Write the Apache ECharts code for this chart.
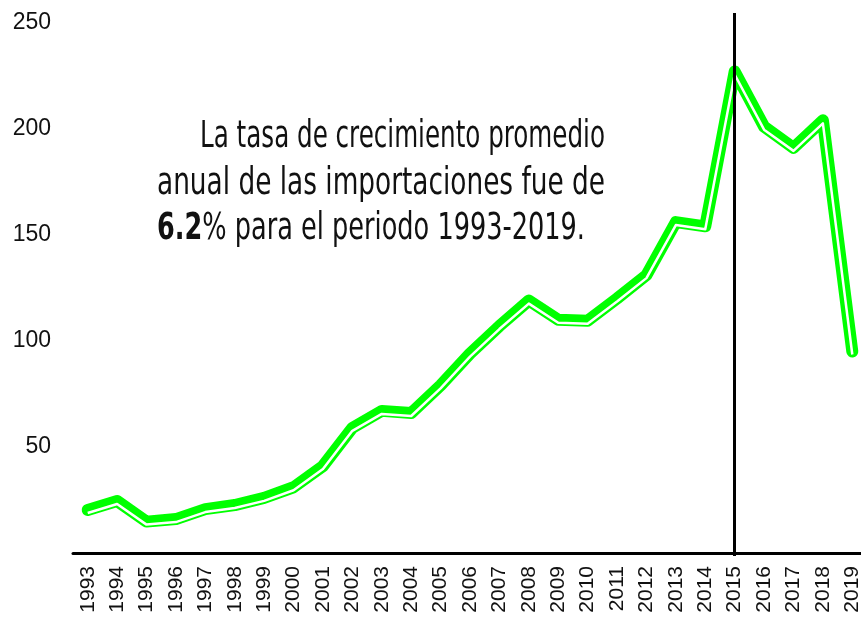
<!DOCTYPE html>
<html>
<head>
<meta charset="utf-8">
<script src="https://cdn.jsdelivr.net/npm/echarts@6/dist/echarts.min.js"></script>
<style>
html, body { margin: 0; padding: 0; background: #fff; }
#chart { width: 861px; height: 623px; }
</style>
</head>
<body>
<div id="chart"></div>
<script>
// data
const years = ['1993','1994','1995','1996','1997','1998','1999','2000','2001','2002',
    '2003','2004','2005','2006','2007','2008','2009','2010','2011','2012',
    '2013','2014','2015','2016','2017','2018','2019'];
const imports = [20.3, 24.5, 14.8, 16, 20.7, 22.6, 26, 31, 41, 59,
    67, 66, 79, 94, 107, 119, 110, 109.5, 120, 131,
    156, 154, 227, 201, 191, 204, 95];
const markYear = '2015';
const noteLines = [
    'La tasa de crecimiento promedio',
    'anual de las importaciones fue de',
    '% para el periodo 1993-2019.'
];
const noteBold = '6.2';

// text fitting helpers
const NOTE_FONT = '"Liberation Sans Narrow", "DejaVu Sans Condensed", "Liberation Sans", sans-serif';
const NOTE_SIZE = 37;
const AXIS_FONT = '"Liberation Sans", Arial, sans-serif';
const measureCtx = document.createElement('canvas').getContext('2d');
function textWidth(str, weight) {
    measureCtx.font = (weight || 'normal') + ' ' + NOTE_SIZE + 'px ' + NOTE_FONT;
    return measureCtx.measureText(str).width;
}
const s1 = 405 / textWidth(noteLines[0]);
const s2 = 448 / textWidth(noteLines[1]);
const s3 = 428 / (textWidth(noteBold, 'bold') + textWidth(noteLines[2]));

const chart = echarts.init(document.getElementById('chart'), null, { renderer: 'canvas' });

// second grid is the same plot nudged down a few px for the white inner line
const grid1 = { left: 73, width: 794, top: 10, bottom: 70, containLabel: false, outerBoundsMode: 'none' };
const grid2 = { left: 73, width: 794, top: 13, bottom: 67, containLabel: false, outerBoundsMode: 'none' };

const noteStyle = {
    fontFamily: NOTE_FONT,
    fontSize: NOTE_SIZE,
    fill: '#111',
    verticalAlign: 'middle'
};

chart.setOption({
    animation: false,
    backgroundColor: '#fff',
    grid: [grid1, grid2],
    xAxis: [{
        type: 'category',
        gridIndex: 0,
        data: years,
        boundaryGap: true,
        axisLine: { show: true, lineStyle: { color: '#000', width: 3 } },
        axisTick: { show: false },
        axisLabel: {
            rotate: 90,
            interval: 0,
            margin: 13,
            fontSize: 21,
            color: '#111',
            fontFamily: AXIS_FONT
        }
    }, {
        type: 'category',
        gridIndex: 1,
        data: years,
        boundaryGap: true,
        show: false
    }],
    yAxis: [{
        type: 'value',
        gridIndex: 0,
        min: 0,
        max: 256,
        interval: 50,
        axisLine: { show: false },
        axisTick: { show: false },
        splitLine: { show: false },
        axisLabel: {
            showMinLabel: false,
            showMaxLabel: false,
            margin: 22,
            fontSize: 23,
            color: '#111',
            fontFamily: AXIS_FONT
        }
    }, {
        type: 'value',
        gridIndex: 1,
        min: 0,
        max: 256,
        show: false
    }],
    series: [{
        type: 'line',
        xAxisIndex: 0,
        yAxisIndex: 0,
        data: imports,
        symbol: 'none',
        z: 2,
        lineStyle: { color: '#00ff00', width: 12, cap: 'round', join: 'round' }
    }, {
        type: 'line',
        xAxisIndex: 1,
        yAxisIndex: 1,
        data: imports,
        symbol: 'none',
        z: 3,
        lineStyle: { color: '#fff', width: 2.5, join: 'round' },
        markLine: {
            silent: true,
            symbol: 'none',
            label: { show: false },
            lineStyle: { color: '#000', width: 3, type: 'solid' },
            data: [{ xAxis: markYear }]
        }
    }],
    graphic: [{
        type: 'text',
        x: 605, y: 137,
        scaleX: s1,
        style: Object.assign({}, noteStyle, { text: noteLines[0], align: 'right' })
    }, {
        type: 'text',
        x: 157, y: 184,
        scaleX: s2,
        style: Object.assign({}, noteStyle, { text: noteLines[1], align: 'left' })
    }, {
        type: 'text',
        x: 157, y: 229,
        scaleX: s3,
        style: Object.assign({}, noteStyle, {
            text: '{b|' + noteBold + '}' + noteLines[2],
            align: 'left',
            rich: {
                b: { fontWeight: 'bold', fontFamily: NOTE_FONT, fontSize: NOTE_SIZE, fill: '#111' }
            }
        })
    }]
});
</script>
</body>
</html>
